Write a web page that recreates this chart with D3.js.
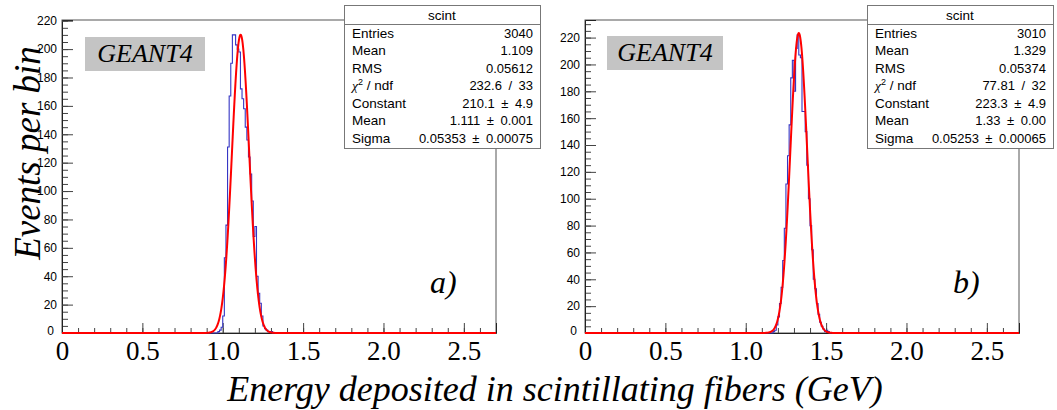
<!DOCTYPE html>
<html>
<head>
<meta charset="utf-8">
<script src="https://cdn.jsdelivr.net/npm/d3@7"></script>
<style>
  html, body { margin: 0; padding: 0; background: #fff; }
  svg { display: block; }
</style>
</head>
<body>
<script>
// ---- data -------------------------------------------------------------
// Panel a): histogram bin lower edges (GeV) and contents
const binsA = [0.97, 0.98, 0.99, 1.00, 1.01, 1.02, 1.03, 1.04, 1.05, 1.06, 1.07, 1.08,
               1.09, 1.10, 1.11, 1.12, 1.13, 1.14, 1.15, 1.16, 1.17, 1.18, 1.19, 1.20,
               1.21, 1.22, 1.23, 1.24, 1.25, 1.26, 1.27, 1.28, 1.29, 1.30];
const countsA = [1, 2, 4, 12, 53, 76, 131, 167, 190, 210, 210, 203,
                 200, 198, 172, 165, 158, 145, 136, 124, 112, 93, 68, 75,
                 40, 28, 21, 12, 5, 3, 2, 1, 1, 1];

// Panel b): histogram bin lower edges (GeV) and contents
const binsB = [1.17, 1.18, 1.19, 1.20, 1.21, 1.22, 1.23, 1.24, 1.25, 1.26, 1.27, 1.28,
               1.29, 1.30, 1.31, 1.32, 1.33, 1.34, 1.35, 1.36, 1.37, 1.38, 1.39, 1.40,
               1.41, 1.42, 1.43, 1.44, 1.45, 1.46, 1.47, 1.48, 1.49, 1.50, 1.51];
const countsB = [1, 2, 6, 12, 22, 34, 54, 78, 111, 132, 155, 190,
                 203, 180, 212, 222, 207, 205, 165, 165, 150, 125, 100, 80,
                 62, 40, 33, 22, 14, 8, 5, 3, 1, 2, 1];
const binWidth = 0.01;

// Gaussian fit parameters: [Constant, Mean, Sigma]
const fitA = [210.1, 1.111, 0.05353];
const fitB = [223.3, 1.33, 0.05253];

// Statistics box rows (wide gaps around "±" and "/")
const PM = "\u2002\u00b1\u2002";
const SL = "\u2002/\u2002";
const statLabels = ["Entries", "Mean", "RMS", "CHI2", "Constant", "Mean", "Sigma"];
const statValuesA = ["3040", "1.109", "0.05612", "232.6" + SL + "33", "210.1" + PM + "4.9", "1.111" + PM + "0.001", "0.05353" + PM + "0.00075"];
const statValuesB = ["3010", "1.329", "0.05374", "77.81" + SL + "32", "223.3" + PM + "4.9", "1.33" + PM + "0.00", "0.05253" + PM + "0.00065"];

// Axis ticks
const xTicks = [0, 0.5, 1.0, 1.5, 2.0, 2.5];
const xTickLabels = ["0", "0.5", "1.0", "1.5", "2.0", "2.5"];
const yTicks = [0, 20, 40, 60, 80, 100, 120, 140, 160, 180, 200, 220];
const xRange = [0, 2.7];

// ---- drawing ----------------------------------------------------------
const W = 1057, H = 410;
const svg = d3.select("body").append("svg").attr("width", W).attr("height", H);

const SERIF = "'Liberation Serif', 'DejaVu Serif', serif";
const SANS = "'Liberation Sans', Arial, sans-serif";

const panels = [
  { bins: binsA, counts: countsA, fit: fitA, stats: statValuesA, tag: "a)",
    left: 62, right: 496, top: 20, bottom: 333,
    box: { x: 344, y: 5, w: 196, h: 143 }, geant: { x: 85, y: 37, w: 120, h: 34 } },
  { bins: binsB, counts: countsB, fit: fitB, stats: statValuesB, tag: "b)",
    left: 585, right: 1019, top: 20, bottom: 333,
    box: { x: 867, y: 5, w: 186, h: 143 }, geant: { x: 607, y: 36, w: 116, h: 34 } }
];

panels.forEach(p => {
  const yMax = 1.05 * d3.max(p.counts);
  const x = d3.scaleLinear().domain(xRange).range([p.left, p.right]);
  const y = d3.scaleLinear().domain([0, yMax]).range([p.bottom, p.top]);
  const g = svg.append("g");

  // frame
  g.append("rect")
    .attr("x", p.left).attr("y", p.top)
    .attr("width", p.right - p.left).attr("height", p.bottom - p.top)
    .attr("fill", "none").attr("stroke", "#555").attr("stroke-width", 1);

  // minor / major ticks on the x axis
  const minorX = d3.range(0, 27).map(i => i / 10);
  g.append("g").attr("transform", `translate(0,${p.bottom})`)
    .call(d3.axisBottom(x).tickValues(minorX).tickSize(-5).tickFormat(""))
    .call(a => a.select(".domain").remove())
    .selectAll("line").attr("stroke", "#444");
  const xa = g.append("g").attr("transform", `translate(0,${p.bottom})`)
    .call(d3.axisBottom(x).tickValues(xTicks).tickSize(-10).tickPadding(8)
      .tickFormat((d, i) => xTickLabels[i]));
  xa.select(".domain").attr("stroke", "#222");
  xa.selectAll("line").attr("stroke", "#444");
  xa.selectAll("text").attr("font-family", SERIF).attr("font-size", 27).attr("fill", "#000");

  // minor / major ticks on the y axis
  const minorY = d3.range(0, Math.floor(yMax / 5) + 1).map(i => i * 5);
  g.append("g").attr("transform", `translate(${p.left},0)`)
    .call(d3.axisLeft(y).tickValues(minorY).tickSize(-6).tickFormat(""))
    .call(a => a.select(".domain").remove())
    .selectAll("line").attr("stroke", "#444");
  const ya = g.append("g").attr("transform", `translate(${p.left},0)`)
    .call(d3.axisLeft(y).tickValues(yTicks).tickSize(-11).tickPadding(5));
  ya.select(".domain").attr("stroke", "#222");
  ya.selectAll("line").attr("stroke", "#444");
  ya.selectAll("text").attr("font-family", SANS).attr("font-size", 12).attr("fill", "#000");
  // the zero label sits a little left and up, clear of the x-axis zero
  ya.selectAll(".tick").filter(d => d === 0).select("text").attr("dx", -3).attr("dy", "0.1em");

  // histogram outline (steps), flat at zero outside the filled bins
  const pts = [[xRange[0], 0]];
  p.bins.forEach((b, i) => {
    pts.push([b, 0 < i ? p.counts[i - 1] : 0]);
    pts.push([b, p.counts[i]]);
  });
  const lastEdge = p.bins[p.bins.length - 1] + binWidth;
  pts.push([lastEdge, p.counts[p.counts.length - 1]]);
  pts.push([lastEdge, 0]);
  pts.push([xRange[1], 0]);
  g.append("path")
    .attr("d", d3.line().x(d => x(d[0])).y(d => y(d[1]))(pts))
    .attr("fill", "none").attr("stroke", "#3535c4").attr("stroke-width", 1.1);

  // Gaussian fit curve
  const [C, mu, sg] = p.fit;
  const xs = d3.range(0, 2701).map(i => i / 1000);
  g.append("path")
    .attr("d", d3.line().x(v => x(v)).y(v => y(C * Math.exp(-0.5 * ((v - mu) / sg) ** 2)))(xs))
    .attr("fill", "none").attr("stroke", "#ff0000").attr("stroke-width", 2);

  // GEANT4 tag
  g.append("rect")
    .attr("x", p.geant.x).attr("y", p.geant.y).attr("width", p.geant.w).attr("height", p.geant.h)
    .attr("fill", "#c4c4c4");
  g.append("text")
    .attr("x", p.geant.x + p.geant.w / 2).attr("y", p.geant.y + p.geant.h / 2 + 8)
    .attr("text-anchor", "middle").attr("font-family", SERIF).attr("font-style", "italic")
    .attr("font-size", 26).text("GEANT4");

  // panel letter
  g.append("text")
    .attr("x", p.right - 66).attr("y", 293)
    .attr("font-family", SERIF).attr("font-style", "italic").attr("font-size", 32)
    .text(p.tag);

  // statistics box
  const bx = p.box;
  g.append("rect")
    .attr("x", bx.x + 0.5).attr("y", bx.y + 0.5).attr("width", bx.w).attr("height", bx.h)
    .attr("fill", "#fff").attr("stroke", "#777").attr("stroke-width", 1);
  g.append("line")
    .attr("x1", bx.x).attr("x2", bx.x + bx.w).attr("y1", bx.y + 19.5).attr("y2", bx.y + 19.5)
    .attr("stroke", "#777");
  g.append("text")
    .attr("x", bx.x + bx.w / 2).attr("y", bx.y + 15)
    .attr("text-anchor", "middle").attr("font-family", SANS).attr("font-size", 13.5).text("scint");
  statLabels.forEach((lab, i) => {
    const ty = bx.y + 32.5 + i * 17.5;
    const t = g.append("text").attr("x", bx.x + 8).attr("y", ty)
      .attr("font-family", SANS).attr("font-size", 13.5);
    if (lab === "CHI2") {
      t.append("tspan").attr("font-family", SERIF).attr("font-style", "italic").text("\u03c7");
      t.append("tspan").attr("font-size", 9).attr("dy", -5).text("2");
      t.append("tspan").attr("dy", 5).text(" / ndf");
    } else {
      t.text(lab);
    }
    g.append("text").attr("x", bx.x + bx.w - 7).attr("y", ty)
      .attr("text-anchor", "end").attr("font-family", SANS).attr("font-size", 13)
      .text(p.stats[i]);
  });
});

// shared axis titles
svg.append("text")
  .attr("transform", "translate(40,153) rotate(-90)")
  .attr("text-anchor", "middle").attr("font-family", SERIF).attr("font-style", "italic")
  .attr("font-size", 37).text("Events per bin");

svg.append("text")
  .attr("x", 555).attr("y", 401)
  .attr("text-anchor", "middle").attr("font-family", SERIF).attr("font-style", "italic")
  .attr("font-size", 36).text("Energy deposited in scintillating fibers (GeV)");
</script>
</body>
</html>
